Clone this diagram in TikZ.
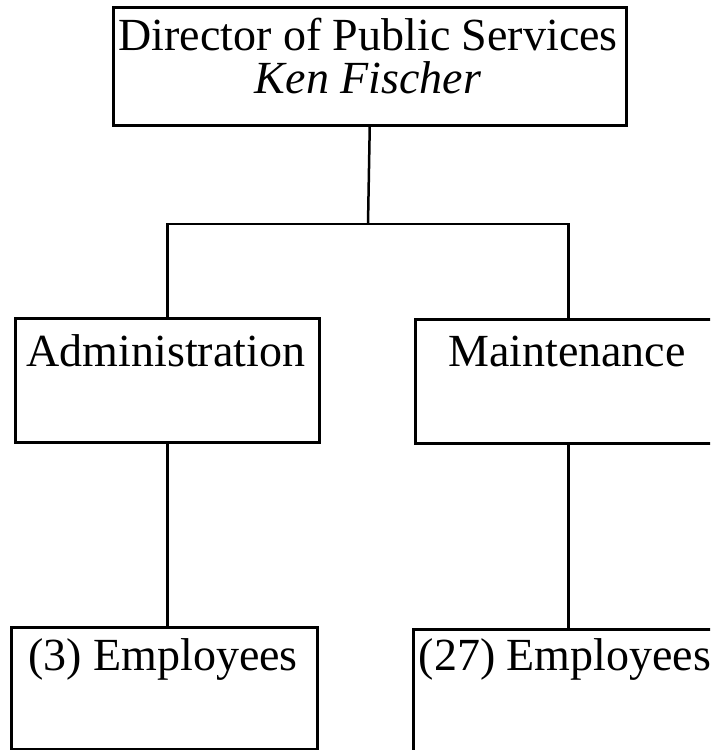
\documentclass[tikz,border=0pt]{standalone}
\usepackage{fontspec}
\setmainfont{Liberation Serif}
\begin{document}
\begin{tikzpicture}[x=1pt,y=-1pt,
  box/.style={draw=black, line width=2.5pt, anchor=north west, inner sep=0pt},
  lbl/.style={anchor=base, inner sep=0pt, font=\fontsize{46}{50}\selectfont},
  wire/.style={draw=black, line width=2.5pt}]
\clip (0,0) rectangle (710,750);
\fill[white] (0,0) rectangle (710,750);
% boxes
\node[box, minimum width=513pt, minimum height=118pt] (dir) at (112,6) {};
\node[box, minimum width=304pt, minimum height=124pt] (adm) at (14,317) {};
\node[box, minimum width=306pt, minimum height=124pt] (mnt) at (414,318) {};
\node[box, minimum width=306pt, minimum height=122pt] (e3) at (10,626) {};
\node[box, minimum width=306pt, minimum height=122pt] (e27) at (412,628) {};
% texts
\node[lbl] (t1) at (368,50) {Director of Public Services};
\node[lbl] (t2) at (368,93) {\itshape Ken Fischer};
\node[lbl] (t3) at (166,366) {Administration};
\node[lbl] (t4) at (567,366) {Maintenance};
\node[lbl] (t5) at (163,670) {(3) Employees};
\node[lbl] (t6) at (565,670) {(27) Employees};
% connectors
\coordinate (bus) at (368,224);
\draw[wire] (dir.south) -- (bus);
\draw[wire] (adm.north) |- (bus) -| (mnt.north);
\draw[wire] (adm.south) -- (e3.north -| adm.south);
\draw[wire] (mnt.south) -- (e27.north -| mnt.south);
\end{tikzpicture}
\end{document}
